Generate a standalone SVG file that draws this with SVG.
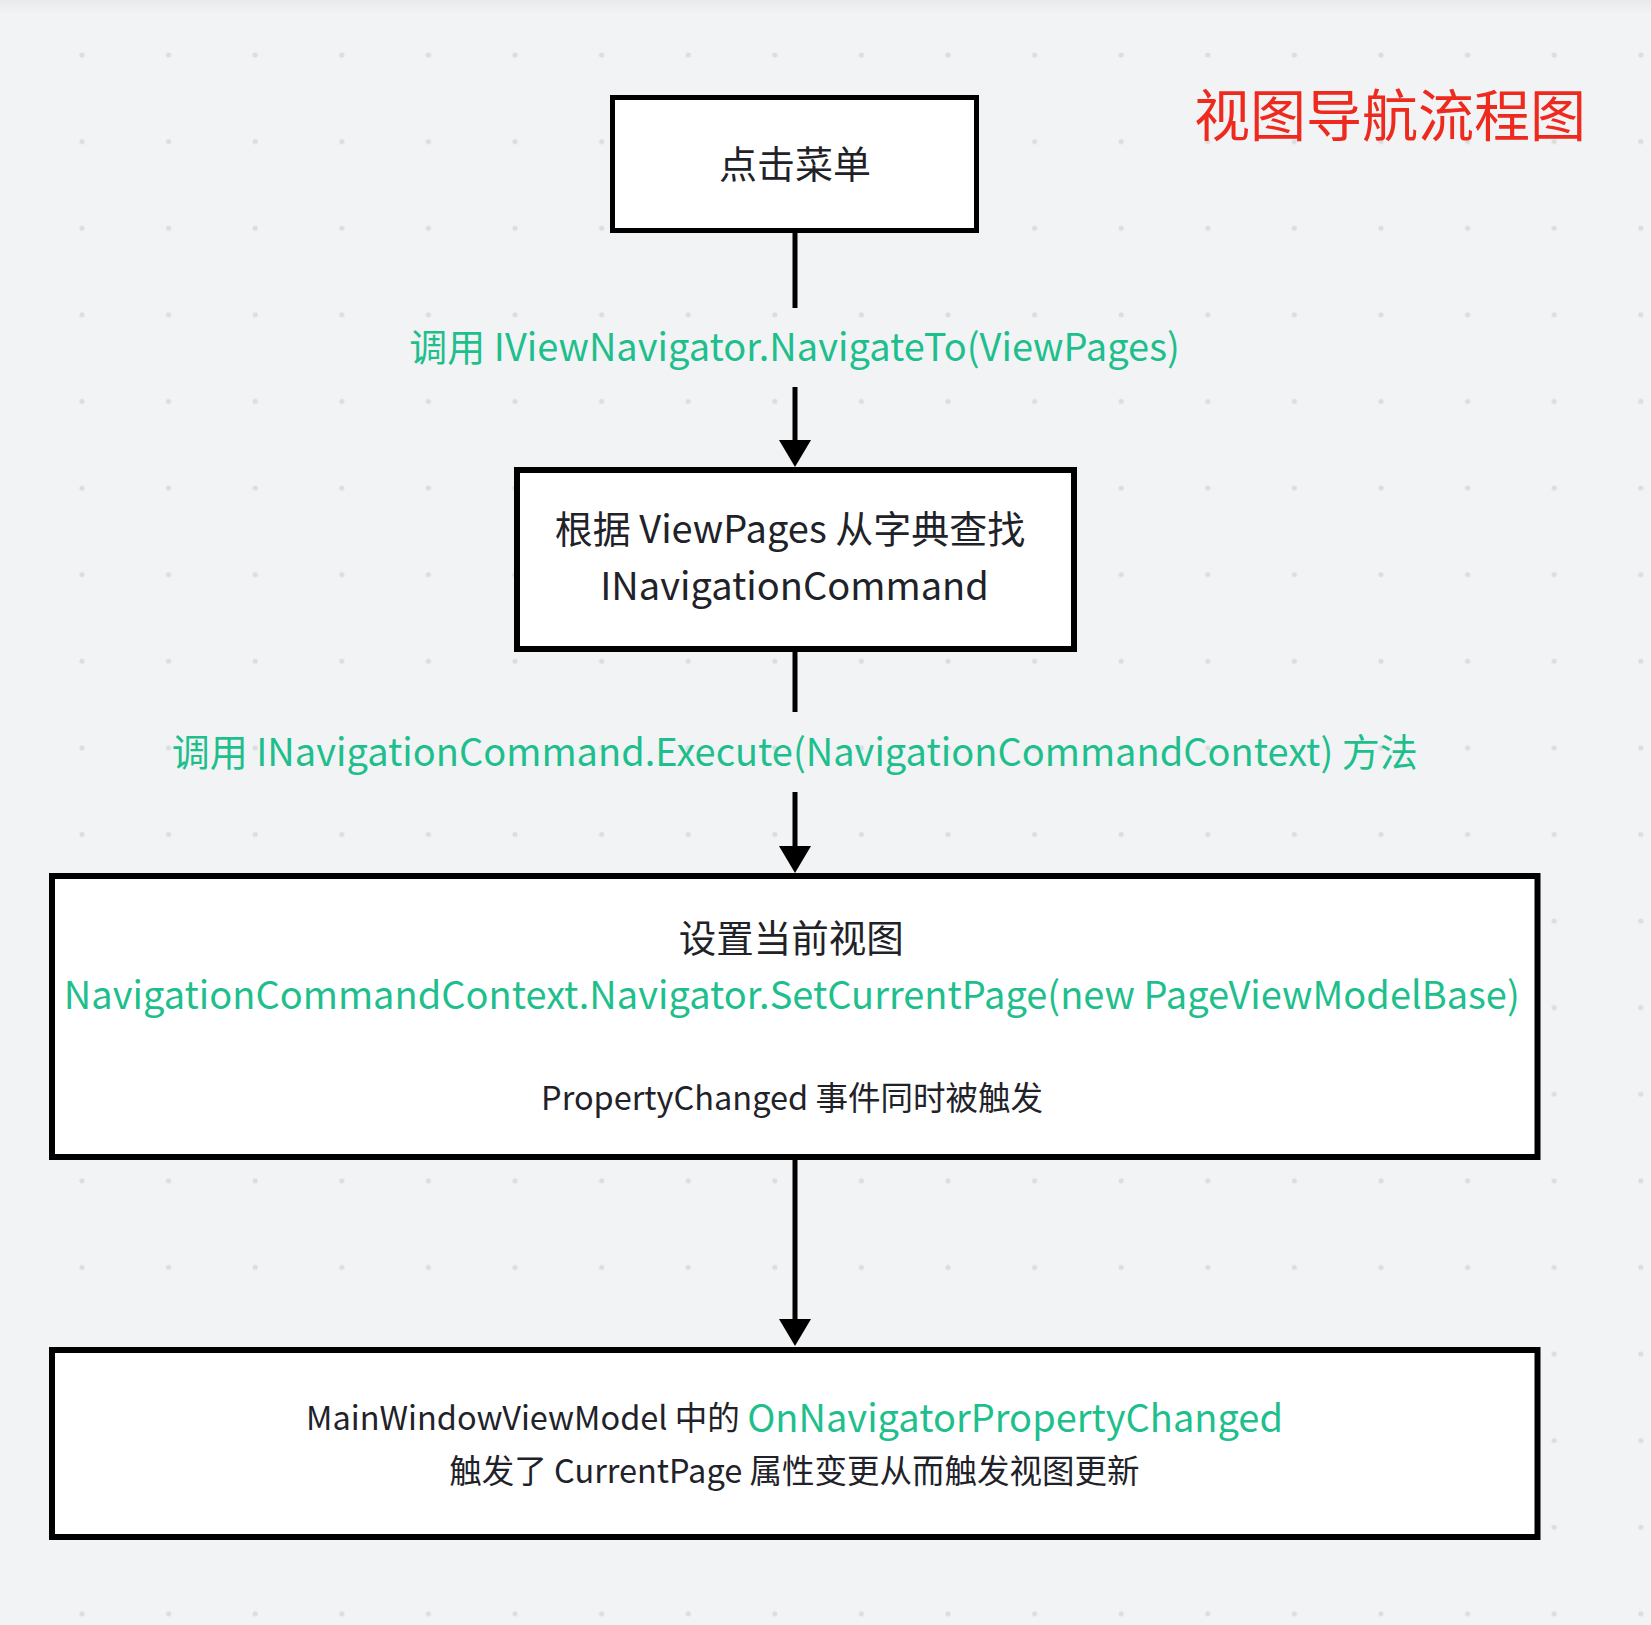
<svg xmlns="http://www.w3.org/2000/svg" width="1651" height="1625" viewBox="0 0 1651 1625">
  <style>
    .bg { fill: #f2f3f5; }
    .node rect { fill: #ffffff; stroke: #000000; }
    .t { font-family: "Noto Sans CJK SC", "Noto Sans", sans-serif; text-anchor: middle; dominant-baseline: central; fill: #1f2329; }
    .g { fill: #1fbf8d; }
    .title { font-family: "Noto Sans CJK SC", sans-serif; font-size: 56px; fill: #ee2a1f; text-anchor: middle; dominant-baseline: central; }
    .conn line { stroke: #000000; stroke-width: 5; }
  </style>
  <defs>
    <pattern id="dots" x="82" y="55" width="86.6" height="86.6" patternUnits="userSpaceOnUse">
      <circle cx="0" cy="0" r="2.6" fill="#dcdde1"/>
      <circle cx="86.6" cy="0" r="2.6" fill="#dcdde1"/>
      <circle cx="0" cy="86.6" r="2.6" fill="#dcdde1"/>
      <circle cx="86.6" cy="86.6" r="2.6" fill="#dcdde1"/>
    </pattern>
    <linearGradient id="topshade" x1="0" y1="0" x2="0" y2="1">
      <stop offset="0" stop-color="#e9eaec"/>
      <stop offset="1" stop-color="#f2f3f5"/>
    </linearGradient>
    <marker id="arrow" viewBox="0 0 27 32" refX="7" refY="16" markerWidth="27" markerHeight="32" markerUnits="userSpaceOnUse" orient="auto">
      <path d="M0,0 L27,16 L0,32 Z" fill="#000000"/>
    </marker>
  </defs>

  <rect class="bg" x="0" y="0" width="1651" height="1625"/>
  <rect x="0" y="0" width="1651" height="14" fill="url(#topshade)"/>
  <rect x="0" y="0" width="1651" height="1625" fill="url(#dots)"/>

  <text id="title" class="title" x="1390" y="111">视图导航流程图</text>

  <g id="connectors" class="conn">
    <line x1="795" y1="231" x2="795" y2="308"/>
    <line x1="795" y1="387" x2="795" y2="447" marker-end="url(#arrow)"/>
    <line x1="795" y1="649" x2="795" y2="712"/>
    <line x1="795" y1="792" x2="795" y2="853" marker-end="url(#arrow)"/>
    <line x1="795" y1="1157" x2="795" y2="1326" marker-end="url(#arrow)"/>
  </g>

  <g id="label1">
    <text class="t g" x="794.5" y="344.5" font-size="38">调用 IViewNavigator.NavigateTo(ViewPages)</text>
  </g>
  <g id="label2">
    <text class="t g" x="794.7" y="749.8" font-size="38">调用 INavigationCommand.Execute(NavigationCommandContext) 方法</text>
  </g>

  <g id="node1" class="node">
    <rect x="612.5" y="97.5" width="364" height="133" stroke-width="5"/>
    <text class="t" x="795" y="161.5" font-size="38">点击菜单</text>
  </g>

  <g id="node2" class="node">
    <rect x="517" y="470" width="557" height="179" stroke-width="6"/>
    <text class="t" x="790" y="526.5" font-size="38">根据 ViewPages 从字典查找</text>
    <text class="t" x="794.5" y="583.5" font-size="38">INavigationCommand</text>
  </g>

  <g id="node3" class="node">
    <rect x="52" y="876" width="1485.5" height="281" stroke-width="6"/>
    <text class="t" x="791.3" y="935" font-size="37.5">设置当前视图</text>
    <text class="t g" x="791.8" y="992" font-size="38">NavigationCommandContext.Navigator.SetCurrentPage(new PageViewModelBase)</text>
    <text class="t" x="792" y="1095" font-size="32.5">PropertyChanged 事件同时被触发</text>
  </g>

  <g id="node4" class="node">
    <rect x="52" y="1350" width="1485.5" height="187" stroke-width="6"/>
    <text class="t" x="794.5" y="1415" font-size="32.5">MainWindowViewModel 中的 <tspan class="g" font-size="38">OnNavigatorPropertyChanged</tspan></text>
    <text class="t" x="794.4" y="1468" font-size="32.5">触发了 CurrentPage 属性变更从而触发视图更新</text>
  </g>
</svg>
